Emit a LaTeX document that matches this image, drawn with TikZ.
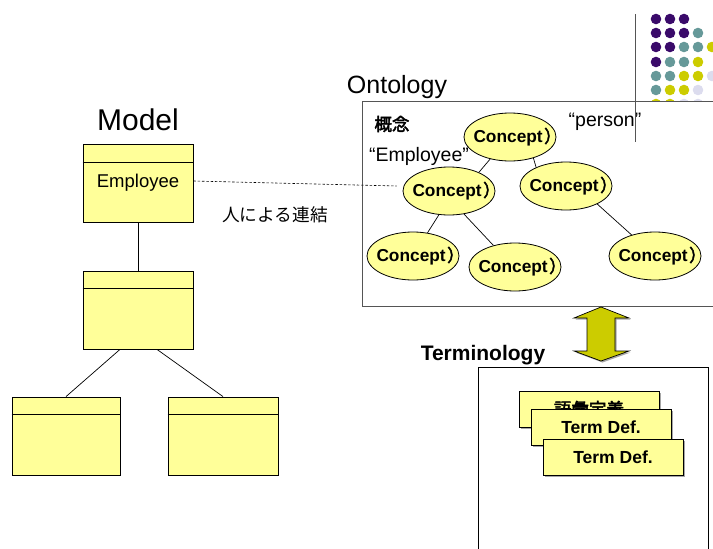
\documentclass[tikz,border=0pt]{standalone}
\usepackage{fontspec}
\setmainfont{Liberation Sans}
\newfontfamily\cjk{Noto Sans CJK JP}[AutoFakeBold=2.5]
\usetikzlibrary{shapes.geometric,shadows}

\definecolor{boxfill}{HTML}{FFFF99}
\definecolor{arrowfill}{HTML}{CCCC00}
\definecolor{dotpurple}{HTML}{3A0A6A}
\definecolor{dotteal}{HTML}{669999}
\definecolor{dotyellow}{HTML}{CCCC00}
\definecolor{dotlav}{HTML}{DCDCEE}
\definecolor{frame}{HTML}{555555}

\begin{document}
\begin{tikzpicture}[x=1pt,y=-1pt,
  classbox/.style={rectangle, draw=black, fill=boxfill, line width=0.8pt,
    inner sep=0pt, minimum width=110pt, minimum height=78pt,
    font=\fontsize{18.5}{21}\selectfont},
  concept/.style={ellipse, draw=black, fill=boxfill, line width=0.8pt,
    inner sep=0pt, minimum width=92pt, minimum height=48pt},
  ctext/.style={inner sep=0pt, font=\bfseries\fontsize{17.3}{20}\selectfont},
  termbox/.style={rectangle, draw=black, fill=boxfill, line width=0.8pt,
    inner sep=0pt, minimum width=140pt, minimum height=36pt,
    drop shadow={shadow xshift=1.5pt, shadow yshift=-1.5pt, fill=gray!70, opacity=1},
    font=\bfseries\fontsize{17.5}{20}\selectfont},
  frm/.style={draw=frame, line width=0.9pt},
  link/.style={draw=black, line width=0.7pt},
  title/.style={inner sep=0pt, font=\fontsize{30}{33}\selectfont},
  txt/.style={inner sep=0pt, font=\fontsize{19.5}{22}\selectfont}
]
\useasboundingbox (0,0) rectangle (713,549);

% ---------- decorative dot grid ----------
\foreach \x/\y/\c in {
  656/19/dotpurple, 670/19/dotpurple, 684/19/dotpurple,
  656/33/dotpurple, 670/33/dotpurple, 684/33/dotpurple, 698/33/dotteal,
  656/47/dotpurple, 670/47/dotpurple, 684/47/dotteal, 698/47/dotteal, 712/47/dotyellow,
  656/62/dotpurple, 670/62/dotteal, 684/62/dotteal, 698/62/dotyellow,
  656/76/dotteal, 670/76/dotteal, 684/76/dotyellow, 698/76/dotyellow, 712/76/dotlav,
  656/90/dotteal, 670/90/dotyellow, 684/90/dotyellow, 698/90/dotlav,
  656/104/dotyellow, 670/104/dotyellow, 684/104/dotlav, 698/104/dotlav,
  670/118/dotlav, 698/118/dotlav}
  \fill[\c] (\x,\y) circle (5.3pt);

% ---------- model side ----------
\node[title] (modeltitle) at (138,120) {Model};

\node[classbox] (m1) at (138,183) {\raisebox{-2pt}{Employee}};
\draw[link] ([yshift=-19pt]m1.north west) -- ([yshift=-19pt]m1.north east);

\node[classbox] (m2) at (138,310) {};
\draw[link] ([yshift=-18pt]m2.north west) -- ([yshift=-18pt]m2.north east);

\node[classbox, minimum width=108pt] (m3) at (66,436) {};
\draw[link] ([yshift=-18pt]m3.north west) -- ([yshift=-18pt]m3.north east);

\node[classbox] (m4) at (223,436) {};
\draw[link] ([yshift=-18pt]m4.north west) -- ([yshift=-18pt]m4.north east);

\draw[link] (m1.south) -- (m2.north);
\draw[link] ([xshift=-18pt]m2.south) -- (m3.north);
\draw[link] ([xshift=19pt]m2.south) -- (m4.north);

\node[inner sep=0pt, font=\cjk\fontsize{17.7}{20}\selectfont] (manual) at (275,215) {人による連結};

% ---------- ontology ----------
\node[title, font=\fontsize{25}{28}\selectfont] (ontotitle) at (397,87) {Ontology};
\node[frm, rectangle, fill=white, inner sep=0pt, anchor=north west,
      minimum width=370pt, minimum height=205pt] (onto) at (362,101) {};

\node[concept] (c1) at (510,137) {};
\node[concept] (c2) at (449,191) {};
\node[concept] (c3) at (566,186) {};
\node[concept] (c4) at (413,256) {};
\node[concept] (c5) at (515,267) {};
\node[concept] (c6) at (655,256) {};

\foreach \c in {c1,c2,c3,c4,c5,c6}
  \node[ctext] (\c-label) at ([xshift=7.5pt]\c.center) {Concept\hspace{1.5pt}{\cjk ）}};

\draw[link] (c1.228) -- (c2.32);
\draw[link] (c1.-42) -- (c3.148);
\draw[link] (c2.-113) -- (c4.58);
\draw[link] (c2.-57) -- (c5.135);
\draw[link] (c3.-30) -- (c6.138);

\node[inner sep=0pt, font=\cjk\bfseries\fontsize{17.5}{20}\selectfont] (gainen) at (392,124) {概念};
\node[txt] (qemp) at (419,156) {“Employee”};
\node[txt] (qperson) at (605,122) {“person”};

% human-made link between model and ontology
\draw[link, line width=0.6pt, dash pattern=on 2.5pt off 1.8pt]
  ([yshift=2pt]m1.east) -- ([xshift=-6pt,yshift=5pt]c2.west);

% vertical accent line
\coordinate (vtop) at (635,14);
\coordinate (vbot) at (635,142);
\draw[draw=frame, line width=0.9pt] (vtop) -- (vbot);

% ---------- double arrow ----------
\fill[gray!70, shift={(1.5,1.5)}]
  (601,307) -- (629,318) -- (615,318) -- (615,351) -- (629,351) -- (601,361)
  -- (574,351) -- (587,351) -- (587,318) -- (574,318) -- cycle;
\filldraw[fill=arrowfill, draw=black, line width=0.7pt, line join=miter]
  (601,307) -- (629,318) -- (615,318) -- (615,351) -- (629,351) -- (601,361)
  -- (574,351) -- (587,351) -- (587,318) -- (574,318) -- cycle;

% ---------- terminology ----------
\node[inner sep=0pt, font=\bfseries\fontsize{21}{24}\selectfont] (termtitle) at (483,355) {Terminology};
\node[frm, draw=black, rectangle, inner sep=0pt, anchor=north west,
      minimum width=230pt, minimum height=200pt] (term) at (478,367) {};

\node[termbox] (td1) at (589,409) {\cjk\bfseries 語彙定義};
\node[termbox] (td2) at (601,427) {Term Def.};
\node[termbox] (td3) at (613,457.5) {Term Def.};
\end{tikzpicture}
\end{document}
